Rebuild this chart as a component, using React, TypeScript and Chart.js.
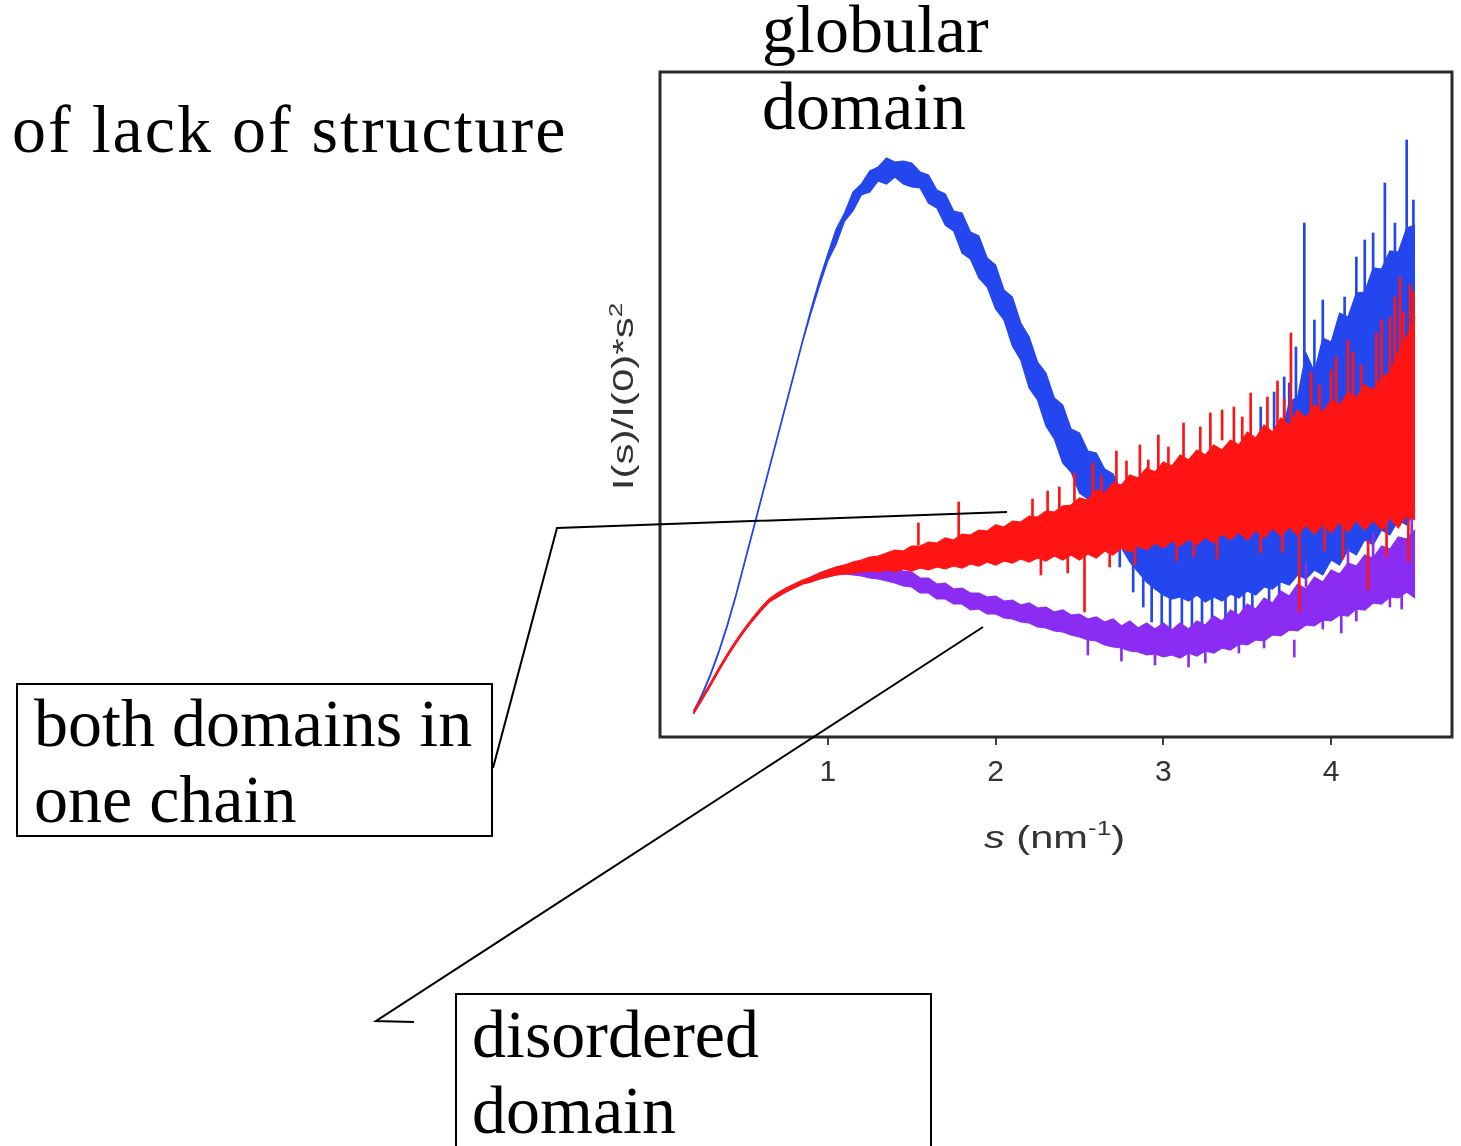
import React, { useEffect, useRef } from "react";
import { Chart, registerables } from "chart.js";

Chart.register(...registerables);

// scattering vector s (nm^-1)
const sValues = [
  0.2, 0.25, 0.3, 0.35, 0.4, 0.45, 0.5, 0.55, 0.6, 0.65, 0.7, 0.75, 0.8, 0.85,
  0.9, 0.95, 1.0, 1.05, 1.1, 1.15, 1.2, 1.25, 1.3, 1.35, 1.4, 1.45,
  1.5, 1.55, 1.6, 1.65, 1.7, 1.75, 1.8, 1.85, 1.9, 1.95, 2.0, 2.05,
  2.1, 2.15, 2.2, 2.25, 2.3, 2.35, 2.4, 2.45, 2.5, 2.55, 2.6, 2.65,
  2.7, 2.75, 2.8, 2.85, 2.9, 2.95, 3.0, 3.05, 3.1, 3.15, 3.2, 3.25,
  3.3, 3.35, 3.4, 3.45, 3.5, 3.55, 3.6, 3.65, 3.7, 3.75, 3.8, 3.85,
  3.9, 3.95, 4.0, 4.05, 4.1, 4.15, 4.2, 4.25, 4.3, 4.35, 4.4, 4.45,
  4.5,
];

// globular domain (blue): upper / lower edge of the noisy trace
const globularHigh = [
  2.6, 4.3, 6.3, 8.6, 11.2, 14.1, 17.3, 20.5, 23.7, 26.9, 30.1, 33.3, 36.5, 39.7,
  42.8, 45.7, 48.3, 50.8, 52.4, 54.5, 55.3, 56.6, 57.0, 57.9, 57.5, 57.6,
  57.4, 56.5, 56.2, 54.7, 54.3, 52.6, 52.4, 50.5, 50.1, 47.9, 47.2, 44.7,
  44.0, 41.4, 40.0, 37.5, 36.4, 33.9, 33.2, 30.8, 30.4, 28.6, 28.4, 26.8,
  26.3, 24.6, 24.6, 23.1, 23.1, 21.8, 22.1, 21.1, 21.6, 21.5, 21.6, 21.8,
  21.7, 23.3, 22.6, 24.9, 24.1, 26.6, 26.0, 29.5, 30.0, 33.5, 34.0, 38.4,
  36.5, 39.9, 39.5, 42.4, 42.0, 44.4, 44.5, 46.9, 46.8, 48.6, 48.5, 50.9,
  51.2,
];
const globularLow = [
  2.4, 4.1, 6.1, 8.4, 11.0, 13.9, 17.1, 20.3, 23.5, 26.7, 29.9, 33.1, 36.3, 39.5,
  42.4, 45.1, 47.6, 49.3, 51.6, 52.6, 54.2, 54.5, 55.6, 55.3, 56.0, 55.3,
  55.0, 54.9, 53.4, 52.9, 51.2, 50.6, 48.4, 47.8, 45.9, 45.0, 42.8, 41.7,
  39.1, 37.7, 34.9, 33.7, 31.1, 29.8, 27.4, 26.5, 24.4, 23.8, 21.9, 21.3,
  20.2, 18.9, 17.5, 16.5, 15.5, 14.8, 14.2, 13.8, 14.0, 13.6, 14.2, 13.5,
  14.0, 13.6, 14.3, 13.9, 14.6, 14.2, 15.0, 14.8, 15.5, 15.2, 16.2, 15.8,
  16.7, 16.2, 17.7, 17.2, 18.7, 18.2, 19.7, 19.2, 20.7, 20.2, 21.7, 21.2,
  22.7,
];

// both domains in one chain (red)
const chainHigh = [
  2.6, 4.0, 5.4, 6.9, 8.3, 9.6, 10.8, 11.9, 12.9, 13.8, 14.4, 14.9, 15.3, 15.7,
  16.0, 16.4, 16.7, 17.0, 17.2, 17.5, 17.7, 18.0, 18.1, 18.4, 18.7, 18.6,
  19.1, 19.1, 19.5, 19.4, 19.9, 19.7, 20.3, 20.2, 20.7, 20.6, 21.2, 21.0,
  21.6, 21.5, 22.1, 22.0, 22.6, 22.5, 23.1, 23.2, 23.9, 23.7, 24.7, 24.4,
  25.4, 25.2, 26.2, 25.9, 26.9, 26.5, 27.5, 27.1, 28.2, 27.7, 28.7, 28.2,
  29.2, 28.7, 29.7, 29.2, 30.5, 29.9, 31.2, 30.5, 31.9, 31.2, 32.7, 31.9,
  33.2, 32.5, 33.7, 33.2, 34.5, 33.9, 35.2, 34.7, 35.9, 36.5, 38.5, 40.0,
  42.0,
];
const chainLow = [
  2.3, 3.7, 5.1, 6.6, 8.0, 9.3, 10.5, 11.6, 12.6, 13.5, 14.0, 14.5, 14.9, 15.3,
  15.5, 15.8, 16.0, 16.2, 16.3, 16.4, 16.5, 16.6, 16.5, 16.7, 16.5, 16.8,
  16.6, 16.9, 16.7, 17.0, 16.8, 17.1, 16.9, 17.3, 17.1, 17.5, 17.2, 17.6,
  17.4, 17.8, 17.5, 17.9, 17.6, 18.1, 17.7, 18.2, 17.7, 18.3, 17.9, 18.6,
  18.2, 18.9, 18.5, 19.1, 18.7, 19.4, 18.9, 19.6, 19.1, 19.8, 19.2, 20.0,
  19.4, 20.3, 19.7, 20.5, 19.7, 20.7, 19.9, 20.9, 20.1, 21.0, 20.2, 21.2,
  20.3, 21.3, 20.4, 21.5, 20.5, 21.7, 20.7, 21.7, 20.7, 21.9, 20.9, 22.2,
  21.7,
];

// disordered domain (purple)
const disorderedHigh = [
  2.5, 3.9, 5.3, 6.8, 8.2, 9.5, 10.7, 11.8, 12.8, 13.7, 14.3, 14.8, 15.2, 15.6,
  16.0, 16.4, 16.7, 17.0, 17.2, 17.3, 17.3, 17.2, 17.1, 17.0, 16.8, 16.6,
  16.5, 15.9, 15.9, 15.3, 15.4, 14.8, 14.9, 14.4, 14.4, 14.0, 14.1, 13.6,
  13.7, 13.2, 13.4, 12.9, 13.0, 12.5, 12.7, 12.2, 12.3, 11.8, 12.0, 11.5,
  11.8, 11.1, 11.6, 10.9, 11.4, 10.8, 11.4, 10.7, 11.4, 10.8, 11.6, 11.2,
  12.1, 11.6, 12.7, 12.2, 13.3, 12.8, 13.9, 13.4, 14.6, 14.1, 15.3, 14.8,
  16.0, 15.5, 16.7, 16.3, 17.4, 17.1, 18.2, 17.9, 19.1, 18.8, 20.0, 19.8,
  20.7,
];
const disorderedLow = [
  2.3, 3.7, 5.1, 6.6, 8.0, 9.3, 10.5, 11.6, 12.6, 13.5, 14.0, 14.5, 14.9, 15.3,
  15.5, 15.8, 16.0, 16.2, 16.3, 16.2, 16.1, 15.9, 15.8, 15.6, 15.4, 15.1,
  15.0, 14.4, 14.4, 13.8, 13.8, 13.3, 13.3, 12.7, 12.8, 12.3, 12.3, 11.9,
  11.8, 11.5, 11.4, 11.0, 10.9, 10.6, 10.5, 10.2, 10.0, 9.7, 9.6, 9.2,
  9.0, 8.9, 8.6, 8.5, 8.2, 8.3, 8.0, 8.2, 7.9, 8.4, 8.1, 8.6,
  8.4, 8.9, 8.7, 9.3, 9.2, 9.7, 9.6, 10.2, 10.1, 10.7, 10.6, 11.2,
  11.1, 11.7, 11.6, 12.2, 12.1, 12.8, 12.7, 13.4, 13.3, 14.0, 13.9, 14.5,
  13.9,
];

// isolated noise spikes (start -> tip)
const globularSpikeS = [
  2.62, 2.68, 2.74, 2.82, 2.88, 2.93, 2.99, 3.04, 3.11, 3.17, 3.23, 3.29, 3.37, 3.43, 3.48, 3.53,
  3.58, 3.63, 3.66, 3.69, 3.72, 3.75, 3.79, 3.84, 3.9, 3.95, 4.08, 4.15, 4.2, 4.25, 4.32, 4.38, 4.45, 4.49,
];
const globularSpikeFrom = [
  24.0, 23.0, 22.0, 20.0, 19.0, 18.0, 17.0, 16.0, 16.0, 16.0, 16.0, 16.0, 17.0, 17.0, 17.0, 18.0,
  28.0, 19.0, 29.0, 20.0, 30.0, 32.7, 32.0, 33.7, 31.7, 32.7, 38.7, 40.7, 42.7, 43.7, 45.7, 47.7, 47.7, 48.7,
];
const globularSpikeTo = [
  20.5, 19.0, 17.0, 14.5, 13.0, 11.5, 10.6, 10.4, 11.0, 10.2, 10.8, 10.5, 11.0, 11.3, 12.0, 12.4,
  33.0, 13.0, 34.5, 13.5, 36.0, 35.4, 39.0, 51.4, 41.7, 43.7, 44.0, 48.0, 49.7, 50.4, 55.4, 51.4, 59.7, 53.7,
];

const chainSpikeS = [
  1.54, 1.78, 2.22, 2.27, 2.31, 2.38, 2.43, 2.47, 2.53, 2.58, 2.63, 2.68, 2.72, 2.78, 2.83, 2.86,
  2.91, 2.97, 3.03, 3.08, 3.12, 3.18, 3.22, 3.28, 3.32, 3.35, 3.42, 3.47, 3.52, 3.58, 3.62, 3.68,
  3.71, 3.72, 3.76, 3.81, 3.88, 3.93, 3.96, 4.0, 4.03, 4.07, 4.1, 4.13, 4.18, 4.22, 4.27, 4.3,
  4.33, 4.35, 4.38, 4.41, 4.43, 4.46, 4.47, 4.49,
];
const chainSpikeFrom = [
  19.2, 19.2, 20.0, 19.0, 20.0, 20.5, 19.5, 21.0, 18.2, 21.5, 21.5, 20.0, 22.0, 22.0, 20.5, 22.5,
  25.7, 23.0, 23.0, 21.0, 23.5, 21.5, 24.0, 24.0, 22.0, 29.7, 25.0, 25.0, 25.0, 22.5, 25.5, 26.0,
  23.0, 26.0, 31.7, 20.7, 26.5, 26.5, 23.5, 31.7, 27.0, 24.0, 33.7, 27.5, 27.5, 19.7, 28.0, 34.7,
  25.0, 28.0, 29.0, 38.7, 29.0, 26.0, 40.7, 30.0,
];
const chainSpikeTo = [
  21.4, 23.5, 23.8, 16.2, 24.6, 25.0, 16.4, 26.4, 12.5, 27.4, 26.2, 17.0, 28.6, 27.6, 17.2, 29.2,
  27.7, 30.2, 29.0, 17.6, 31.4, 18.0, 31.0, 32.4, 17.8, 32.7, 33.0, 32.0, 34.4, 18.4, 34.0, 35.6,
  18.5, 33.8, 40.4, 12.5, 36.5, 35.2, 18.6, 36.7, 38.0, 17.8, 39.7, 38.5, 37.2, 14.7, 40.4, 41.7,
  18.0, 42.0, 44.0, 46.0, 42.5, 17.5, 45.2, 44.6,
];

const disorderedSpikeS = [2.55, 2.75, 2.95, 3.15, 3.25, 3.45, 3.6, 3.78, 3.85, 3.95, 4.06, 4.1, 4.15, 4.25, 4.35, 4.42, 4.48];
const disorderedSpikeFrom = [10.0, 9.5, 9.0, 9.0, 9.5, 10.5, 10.7, 9.7, 15.0, 13.0, 12.2, 16.0, 14.0, 17.0, 16.0, 17.0, 19.0];
const disorderedSpikeTo = [8.2, 7.6, 7.2, 7.0, 7.4, 8.4, 8.9, 8.0, 17.4, 10.8, 10.4, 18.8, 11.6, 20.4, 13.0, 12.8, 23.4];

const xTicks = [1, 2, 3, 4];

const BLUE = "#2446ee";
const RED = "#ff1414";
const PURPLE = "#8a2cf2";

const pts = (ys: number[]) => sValues.map((s, i) => ({ x: s, y: ys[i] }));
const spikes = (xs: number[], from: number[], to: number[]) =>
  xs.map((s, i) => ({ x: s, y: [from[i], to[i]] }));

const edge = (label: string, data: any[], color: string, fill: any) => ({
  type: "line" as const,
  label,
  data,
  borderColor: color,
  backgroundColor: color,
  borderWidth: 1.2,
  pointRadius: 0,
  tension: 0,
  fill,
});
const spikeSet = (label: string, data: any[], color: string) => ({
  type: "bar" as const,
  label,
  data,
  backgroundColor: color,
  borderWidth: 0,
  barThickness: 2,
  grouped: false,
});

const framePlugin = {
  id: "frame",
  afterDraw(chart: any) {
    const { ctx, chartArea: a } = chart;
    ctx.save();
    ctx.strokeStyle = "#2a2a2a";
    ctx.lineWidth = 3;
    ctx.strokeRect(a.left, a.top, a.right - a.left, a.bottom - a.top);
    ctx.restore();
  },
};

const serif = "'Liberation Serif', 'Times New Roman', serif";
const sans = "'Liberation Sans', Arial, sans-serif";

export default function App() {
  const canvasRef = useRef<HTMLCanvasElement | null>(null);

  useEffect(() => {
    if (!canvasRef.current) return;
    const chart = new Chart(canvasRef.current, {
      type: "line",
      data: {
        datasets: [
          spikeSet("chain spikes", spikes(chainSpikeS, chainSpikeFrom, chainSpikeTo), RED),
          edge("both domains in one chain", pts(chainHigh), RED, "+1"),
          edge("chain low", pts(chainLow), RED, false),
          spikeSet("disordered spikes", spikes(disorderedSpikeS, disorderedSpikeFrom, disorderedSpikeTo), PURPLE),
          edge("disordered domain", pts(disorderedHigh), PURPLE, "+1"),
          edge("disordered low", pts(disorderedLow), PURPLE, false),
          spikeSet("globular spikes", spikes(globularSpikeS, globularSpikeFrom, globularSpikeTo), BLUE),
          edge("globular domain", pts(globularHigh), BLUE, "+1"),
          edge("globular low", pts(globularLow), BLUE, false),
        ] as any,
      },
      options: {
        animation: false,
        responsive: false,
        events: [],
        layout: { padding: { left: 660, top: 72, right: 9, bottom: 349 } },
        plugins: { legend: { display: false }, tooltip: { enabled: false } },
        scales: {
          x: {
            type: "linear",
            min: 0,
            max: 4.72,
            offset: false,
            afterBuildTicks: (scale: any) => {
              scale.ticks = xTicks.map((v) => ({ value: v }));
            },
            afterFit: (scale: any) => {
              scale.height = 60;
            },
            grid: {
              display: true,
              offset: false,
              drawOnChartArea: false,
              drawTicks: true,
              tickLength: 8,
              color: "#444",
              lineWidth: 2,
            },
            border: { display: false },
            ticks: {
              font: { family: sans, size: 30 },
              color: "#333",
              padding: 10,
              maxRotation: 0,
            },
          },
          y: { type: "linear", min: 0, max: 66.5, display: false },
        },
      } as any,
      plugins: [framePlugin],
    });
    return () => chart.destroy();
  }, []);

  const textBase: React.CSSProperties = {
    position: "absolute",
    fontFamily: serif,
    fontSize: 68,
    color: "#000",
    whiteSpace: "pre",
  };

  return (
    <div
      style={{
        position: "fixed",
        left: 0,
        top: 0,
        width: 1461,
        height: 1146,
        overflow: "hidden",
        background: "#fff",
      }}
    >
      <canvas
        ref={canvasRef}
        width={1461}
        height={1146}
        style={{ position: "absolute", left: 0, top: 0, display: "block" }}
      />
      <div style={{ ...textBase, left: 762, top: -9, lineHeight: "77px" }}>
        {"globular\ndomain"}
      </div>
      <div style={{ ...textBase, left: 12, top: 91, lineHeight: "76px", letterSpacing: 2 }}>
        of lack of structure
      </div>
      <div
        style={{
          ...textBase,
          left: 16,
          top: 683,
          width: 477,
          height: 154,
          boxSizing: "border-box",
          border: "2px solid #000",
          paddingLeft: 16,
          lineHeight: "76px",
        }}
      >
        {"both domains in\none chain"}
      </div>
      <div
        style={{
          ...textBase,
          left: 455,
          top: 993,
          width: 477,
          height: 220,
          boxSizing: "border-box",
          border: "2px solid #000",
          paddingLeft: 15,
          paddingTop: 1,
          lineHeight: "76px",
        }}
      >
        {"disordered\ndomain"}
      </div>
      <svg
        width={1461}
        height={1146}
        style={{ position: "absolute", left: 0, top: 0, pointerEvents: "none" }}
      >
        <polyline points="493,768 557,528 1007,512" fill="none" stroke="#000" strokeWidth={2} />
        <polyline points="414,1022 376,1021 983,627" fill="none" stroke="#000" strokeWidth={2} />
      </svg>
      <div
        style={{
          position: "absolute",
          left: 984,
          top: 821,
          fontFamily: sans,
          fontSize: 32,
          lineHeight: "32px",
          color: "#333",
          whiteSpace: "pre",
          transform: "scaleX(1.3)",
          transformOrigin: "left top",
        }}
      >
        <i>s</i>
        {" (nm"}
        <span style={{ fontSize: 20, position: "relative", top: -13 }}>-1</span>
        {")"}
      </div>
      <div
        style={{
          position: "absolute",
          left: 623 - 100,
          top: 396 - 14.5,
          width: 200,
          height: 29,
          lineHeight: "29px",
          textAlign: "center",
          fontFamily: sans,
          fontSize: 29,
          color: "#333",
          whiteSpace: "pre",
          transform: "rotate(-90deg) scaleX(1.45)",
          transformOrigin: "center",
        }}
      >
        {"I(s)/I(0)*s"}
        <span style={{ fontSize: 18, position: "relative", top: -11 }}>2</span>
      </div>
    </div>
  );
}
